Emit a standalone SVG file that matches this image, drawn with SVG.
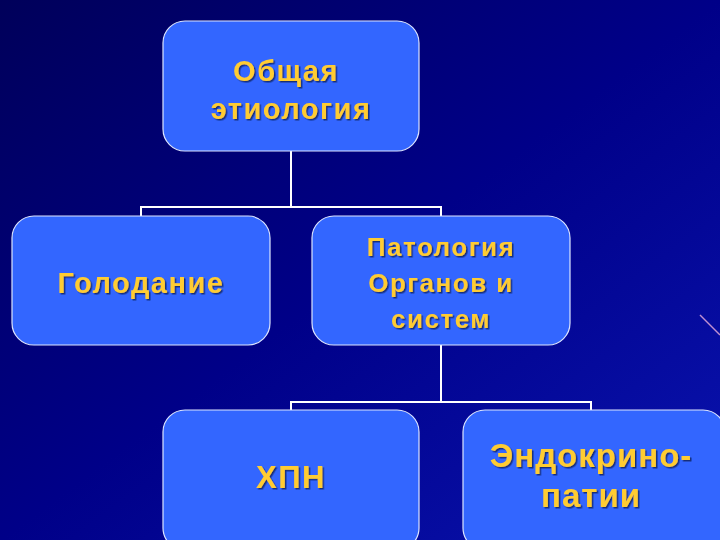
<svg xmlns="http://www.w3.org/2000/svg" width="720" height="540" viewBox="0 0 720 540">
<defs>
<linearGradient id="bg" x1="0" y1="0" x2="1" y2="1">
<stop offset="0" stop-color="#00005a"/>
<stop offset="0.5" stop-color="#000088"/>
<stop offset="1" stop-color="#0a14b0"/>
</linearGradient>
<filter id="sh" x="-10%" y="-10%" width="120%" height="130%">
<feDropShadow dx="1.5" dy="1.5" stdDeviation="0.6" flood-color="#10205a" flood-opacity="0.8"/>
</filter>
</defs>
<style>
.n{fill:#3366ff;stroke:#dde6ff;stroke-width:1.2}
.t{font-family:"Liberation Sans",Arial,sans-serif;font-weight:bold;fill:#ffcc33;text-anchor:middle;filter:url(#sh)}
.c{fill:none;stroke:#ffffff;stroke-width:2}
</style>
<rect width="720" height="540" fill="url(#bg)"/>
<path d="M700 315 L720 335" stroke="#c090d0" stroke-width="1.5"/>
<g id="connectors">
<path class="c" d="M291 151 V207 M141 216 V207 H441 V216"/>
<path class="c" d="M441 345 V402 M291 410 V402 H591 V410"/>
</g>
<g id="n1"><rect class="n" x="163" y="21" width="256" height="130" rx="22"/>
<text class="t" font-size="29" letter-spacing="1.5" x="286" y="81">Общая</text><text class="t" font-size="29" letter-spacing="1.5" x="291" y="119">этиология</text></g>
<g id="n2"><rect class="n" x="12" y="216" width="258" height="129" rx="22"/>
<text class="t" font-size="29" letter-spacing="1.5" x="141" y="293">Голодание</text></g>
<g id="n3"><rect class="n" x="312" y="216" width="258" height="129" rx="22"/>
<text class="t" font-size="26" letter-spacing="1.5" x="441" y="256">Патология</text><text class="t" font-size="26" letter-spacing="1.5" x="441" y="292">Органов и</text><text class="t" font-size="26" letter-spacing="1.5" x="441" y="328">систем</text></g>
<g id="n4"><rect class="n" x="163" y="410" width="256" height="140" rx="22"/>
<text class="t" font-size="31" letter-spacing="1.5" x="291" y="488">ХПН</text></g>
<g id="n5"><rect class="n" x="463" y="410" width="262" height="140" rx="22"/>
<text class="t" font-size="33" letter-spacing="1" x="591" y="467">Эндокрино-</text><text class="t" font-size="33" letter-spacing="1" x="591" y="507">патии</text></g>
</svg>
